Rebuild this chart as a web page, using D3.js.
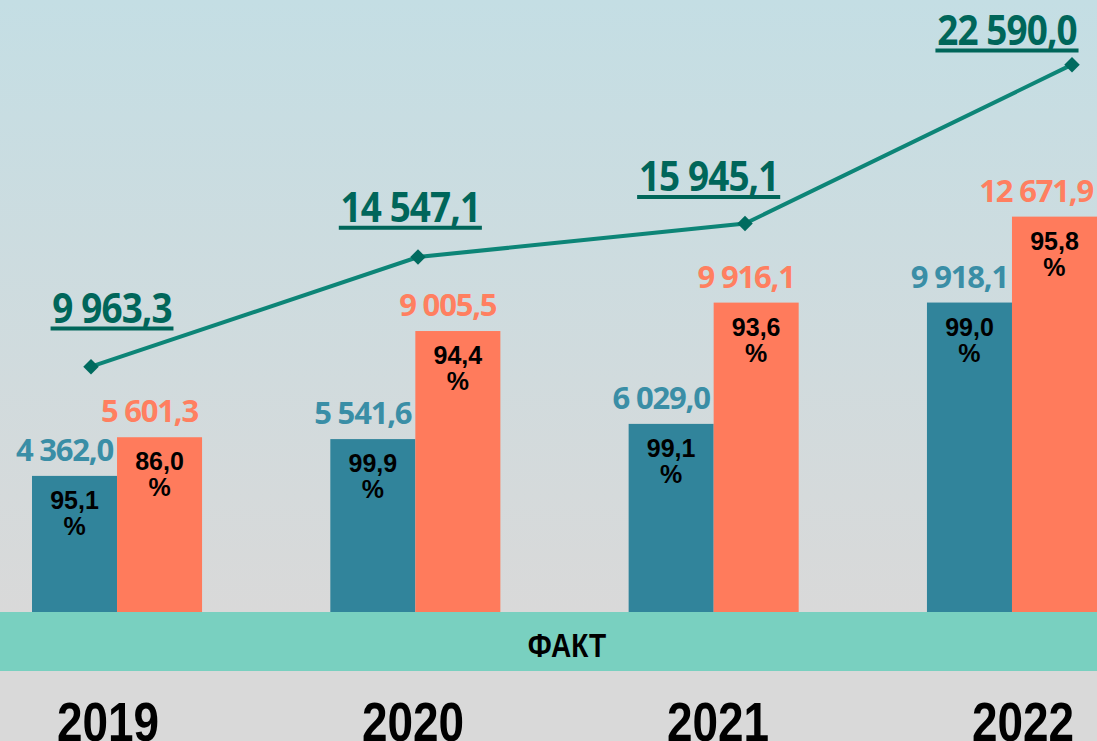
<!DOCTYPE html>
<html>
<head>
<meta charset="utf-8">
<script src="https://cdn.jsdelivr.net/npm/d3@7"></script>
<style>
  html, body { margin: 0; padding: 0; background: #d9d9d9; }
  svg { display: block; }
</style>
</head>
<body>
<div id="chart"></div>
<script>
// values
var years = ["2019", "2020", "2021", "2022"];
var blueValues = [4362.0, 5541.6, 6029.0, 9918.1];
var orangeValues = [5601.3, 9005.5, 9916.1, 12671.9];
var bluePct = [95.1, 99.9, 99.1, 99.0];
var orangePct = [86.0, 94.4, 93.6, 95.8];
var totalValues = [9963.3, 14547.1, 15945.1, 22590.0];
var bandLabel = "ФАКТ";

(function(){

 var width = 1097,
 	height = 741;

 var baseY = 612,
 	bandH = 59;

 var ru = d3.formatLocale({decimal: ",", thousands: " ", grouping: [3], currency: ["", ""]});
 var fmt = ru.format(",.1f");

 var svg = d3.select("#chart")
 	.append("svg")
 	.attr("width", width)
 	.attr("height", height);

 var defs = svg.append("defs");
 var grad = defs.append("linearGradient")
 	.attr("id", "bg")
 	.attr("x1", 0).attr("y1", 0)
 	.attr("x2", 0).attr("y2", 1);
 grad.append("stop").attr("offset", "0%").attr("stop-color", "#c4dee4");
 grad.append("stop").attr("offset", "100%").attr("stop-color", "#d9d9d9");

 svg.append("rect")
 	.attr("width", width)
 	.attr("height", baseY)
 	.attr("fill", "url(#bg)");

 svg.append("rect")
 	.attr("y", baseY)
 	.attr("width", width)
 	.attr("height", height - baseY)
 	.attr("fill", "#d9d9d9");

// scales
var x0 = d3.scaleBand()
	.domain(years)
	.range([32, width])
	.paddingInner(0.43)
	.paddingOuter(0);

var x1 = d3.scaleBand()
	.domain(["blue", "orange"])
	.range([0, x0.bandwidth()]);

var yBar = d3.scaleLinear()
	.domain([0, 19615])
	.range([baseY, 0]);

var xLine = d3.scalePoint()
	.domain(years)
	.range([91, 1072]);

var yLine = d3.scaleLinear()
	.domain([0, 25293])
	.range([605, 0]);

var yLineLabel = d3.scaleLinear()
	.domain([0, 24615])
	.range([542, 0]);

var xYear = d3.scalePoint()
	.domain(years)
	.range([108, 1023]);

var rows = years.map(function(y, i){
	return {year: y, blue: blueValues[i], orange: orangeValues[i], bluePct: bluePct[i], orangePct: orangePct[i], total: totalValues[i]};
});

var series = [
	{key: "blue", fill: "#31849b", text: "#3a8ea6", pct: "bluePct"},
	{key: "orange", fill: "#ff7b5c", text: "#ff7f60", pct: "orangePct"}
];

var groups = svg.selectAll("g.year")
	.data(rows)
	.enter()
	.append("g")
	.attr("class", "year")
	.attr("transform", function(d){ return "translate(" + x0(d.year) + ",0)"; });

series.forEach(function(s){
	groups.append("rect")
		.attr("x", x1(s.key))
		.attr("y", function(d){ return yBar(d[s.key]); })
		.attr("width", x1.bandwidth())
		.attr("height", function(d){ return baseY - yBar(d[s.key]); })
		.attr("fill", s.fill);

	groups.append("text")
		.attr("x", x1(s.key) + x1.bandwidth() - 4)
		.attr("y", function(d){ return yBar(d[s.key]) - 15; })
		.attr("text-anchor", "end")
		.attr("font-family", "'Open Sans', sans-serif")
		.attr("font-weight", 700)
		.attr("font-size", 31)
		.attr("letter-spacing", -1.2)
		.attr("fill", s.text)
		.text(function(d){ return fmt(d[s.key]); });

	var pct = groups.append("text")
		.attr("x", x1(s.key) + x1.bandwidth() / 2)
		.attr("y", function(d){ return yBar(d[s.key]) + 33; })
		.attr("text-anchor", "middle")
		.attr("font-family", "'Liberation Sans', Arial, sans-serif")
		.attr("font-weight", 700)
		.attr("font-size", 25)
		.attr("fill", "#000");
	pct.append("tspan")
		.text(function(d){ return d[s.pct].toFixed(1).replace(".", ","); });
	pct.append("tspan")
		.attr("x", x1(s.key) + x1.bandwidth() / 2)
		.attr("dy", 26)
		.text("%");
});

// band
svg.append("rect")
	.attr("y", baseY)
	.attr("width", width)
	.attr("height", bandH)
	.attr("fill", "#79d0c0");

// condensed bold look: Liberation Sans Bold squeezed horizontally
svg.append("text")
	.attr("transform", "translate(567," + (baseY + 45) + ") scale(0.85,1)")
	.attr("text-anchor", "middle")
	.attr("font-family", "'Liberation Sans', Arial, sans-serif")
	.attr("font-weight", 700)
	.attr("font-size", 33)
	.attr("fill", "#000")
	.text(bandLabel);

svg.selectAll("text.yr")
	.data(years)
	.enter()
	.append("text")
	.attr("class", "yr")
	.attr("transform", function(d){ return "translate(" + xYear(d) + ",741) scale(0.82,1)"; })
	.attr("text-anchor", "middle")
	.attr("font-family", "'Liberation Sans', Arial, sans-serif")
	.attr("font-weight", 700)
	.attr("font-size", 56)
	.attr("fill", "#000")
	.text(function(d){ return d; });

// total line
var line = d3.line()
	.x(function(d){ return xLine(d.year); })
	.y(function(d){ return yLine(d.total); });

svg.append("path")
	.datum(rows)
	.attr("d", line)
	.attr("fill", "none")
	.attr("stroke", "#0d8577")
	.attr("stroke-width", 4);

svg.selectAll("path.mark")
	.data(rows)
	.enter()
	.append("path")
	.attr("class", "mark")
	.attr("d", d3.symbol().type(d3.symbolSquare).size(120))
	.attr("transform", function(d){ return "translate(" + xLine(d.year) + "," + yLine(d.total) + ") rotate(45)"; })
	.attr("fill", "#006b5f");

var totals = svg.selectAll("g.total")
	.data(rows)
	.enter()
	.append("g")
	.attr("class", "total")
	.attr("transform", function(d){ return "translate(" + (x0(d.year) + x0.bandwidth() / 2 - 5) + "," + yLineLabel(d.total) + ") scale(0.9,1)"; });

totals.append("text")
	.attr("text-anchor", "middle")
	.attr("font-family", "'Open Sans', sans-serif")
	.attr("font-weight", 700)
	.attr("font-size", 41)
	.attr("letter-spacing", -1)
	.attr("fill", "#00665a")
	.text(function(d){ return fmt(d.total); });

totals.each(function(d){
	var g = d3.select(this);
	var bb = g.select("text").node().getBBox();
	g.append("line")
		.attr("x1", bb.x - 2)
		.attr("x2", bb.x + bb.width + 2)
		.attr("y1", 6)
		.attr("y2", 6)
		.attr("stroke", "#00665a")
		.attr("stroke-width", 4);
});

})();
</script>
</body>
</html>
